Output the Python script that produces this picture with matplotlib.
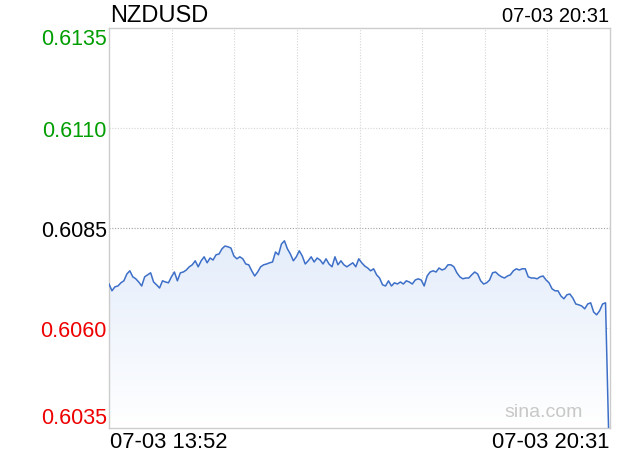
import numpy as np
import matplotlib
matplotlib.use("Agg")
import matplotlib.pyplot as plt
from matplotlib.colors import LinearSegmentedColormap

# NZDUSD intraday prices (07-03 13:52 -> 20:31)
prices = [
    0.60710, 0.60693, 0.60703, 0.60705, 0.60713, 0.60718, 0.60735, 0.60743, 0.60728, 0.60723,
    0.60715, 0.60705, 0.60728, 0.60733, 0.60738, 0.60715, 0.60708, 0.60700, 0.60718, 0.60715,
    0.60713, 0.60728, 0.60740, 0.60718, 0.60738, 0.60740, 0.60745, 0.60753, 0.60758, 0.60768,
    0.60753, 0.60768, 0.60778, 0.60763, 0.60775, 0.60770, 0.60783, 0.60785, 0.60798, 0.60805,
    0.60803,
    0.60800, 0.60780, 0.60773, 0.60778, 0.60773, 0.60760, 0.60758, 0.60743, 0.60730, 0.60740,
    0.60753, 0.60758, 0.60760, 0.60763, 0.60765, 0.60790, 0.60783, 0.60810, 0.60818, 0.60798,
    0.60785, 0.60768, 0.60778, 0.60793, 0.60780, 0.60760, 0.60768, 0.60778, 0.60765, 0.60775,
    0.60770, 0.60760, 0.60773, 0.60760, 0.60753, 0.60778, 0.60758, 0.60768, 0.60758, 0.60753,
    0.60758, 0.60763, 0.60753, 0.60773, 0.60763, 0.60755, 0.60750, 0.60743, 0.60748, 0.60733,
    0.60725, 0.60708, 0.60705, 0.60718, 0.60705, 0.60713, 0.60710, 0.60715, 0.60710, 0.60718,
    0.60715, 0.60710, 0.60720, 0.60723, 0.60720, 0.60705, 0.60730, 0.60740, 0.60743, 0.60740,
    0.60750, 0.60745, 0.60748, 0.60758, 0.60758, 0.60753, 0.60738, 0.60728, 0.60723, 0.60725,
    0.60725, 0.60733, 0.60740,
    0.60735, 0.60718, 0.60710, 0.60713, 0.60720, 0.60738, 0.60740, 0.60733, 0.60728, 0.60725,
    0.60730, 0.60733, 0.60743, 0.60748, 0.60745, 0.60748, 0.60748, 0.60728, 0.60725, 0.60725,
    0.60723, 0.60728, 0.60730, 0.60720, 0.60713, 0.60698, 0.60693, 0.60693, 0.60680, 0.60673,
    0.60683, 0.60685, 0.60675, 0.60660, 0.60658, 0.60655, 0.60648, 0.60660, 0.60663, 0.60640,
    0.60633, 0.60643, 0.60660, 0.60663,
    0.60352,
]
y_ticks = [0.6035, 0.6060, 0.6085, 0.6110, 0.6135]
y_tick_labels = ["0.6035", "0.6060", "0.6085", "0.6110", "0.6135"]
y_tick_colors = ["#ee0000", "#ee0000", "#000000", "#009e00", "#009e00"]
symbol = "NZDUSD"
start_label = "07-03 13:52"
end_label = "07-03 20:31"

x = np.arange(len(prices))
y = np.array(prices)
xmin, xmax = 0, len(prices) - 0.5
ymin, ymax = y_ticks[0], y_ticks[-1]

plt.rcParams['font.family'] = ['Liberation Sans', 'DejaVu Sans']
fig = plt.figure(figsize=(6.2, 4.6), dpi=100)
ax = fig.add_axes([109 / 620, 31 / 460, 501 / 620, 400 / 460])

# gradient fill below the line
cmap = LinearSegmentedColormap.from_list("fill", ["#ffffff", "#e4edfb"])
grad = np.linspace(0, 1, 256).reshape(-1, 1)
im = ax.imshow(grad, cmap=cmap, aspect="auto", origin="lower",
               extent=(xmin, xmax, ymin, y.max()), zorder=1)
poly = ax.fill_between(x, y, ymin, color="none", lw=0)
im.set_clip_path(poly.get_paths()[0], transform=ax.transData)

ax.plot(x, y, color="#3d6fc8", lw=1.1, zorder=3)

ax.set_xlim(xmin, xmax)
ax.set_ylim(ymin, ymax)

# grid
for k in range(1, 8):
    ax.axvline(xmin + k * (xmax - xmin) / 8, color="#d6d6d6", lw=0.8, ls=(0, (1, 1.5)), zorder=0)
for v in y_ticks[1:-1]:
    if v == 0.6085:
        ax.axhline(v, color="#a0a0a0", lw=0.8, ls=(0, (1, 1.5)), zorder=2)
    else:
        ax.axhline(v, color="#d6d6d6", lw=0.8, ls=(0, (1, 1.5)), zorder=0)

for s in ax.spines.values():
    s.set_color("#cccccc")
    s.set_linewidth(1)

ax.set_xticks([])
ax.set_yticks(y_ticks)
ax.set_yticklabels(y_tick_labels, fontsize=15.5)
ax.tick_params(axis="y", length=0, pad=1.5)
labels = ax.get_yticklabels()
for lab, c in zip(labels, y_tick_colors):
    lab.set_color(c)
labels[0].set_va("bottom")
labels[-1].set_va("top")

fig.text(110 / 620, 1 - 16 / 460, symbol, fontsize=17, va="center", ha="left")
fig.text(609 / 620, 1 - 17 / 460, end_label, fontsize=14.5, va="center", ha="right")
fig.text(110 / 620, 1 - 443 / 460, start_label, fontsize=15.8, va="center", ha="left")
fig.text(609 / 620, 1 - 443 / 460, end_label, fontsize=15.8, va="center", ha="right")
ax.text(0.945, 0.04, "sina.com", transform=ax.transAxes, fontsize=14,
        color="#c8c8c8", ha="right", va="center")

fig.savefig("out.png", dpi=100)
